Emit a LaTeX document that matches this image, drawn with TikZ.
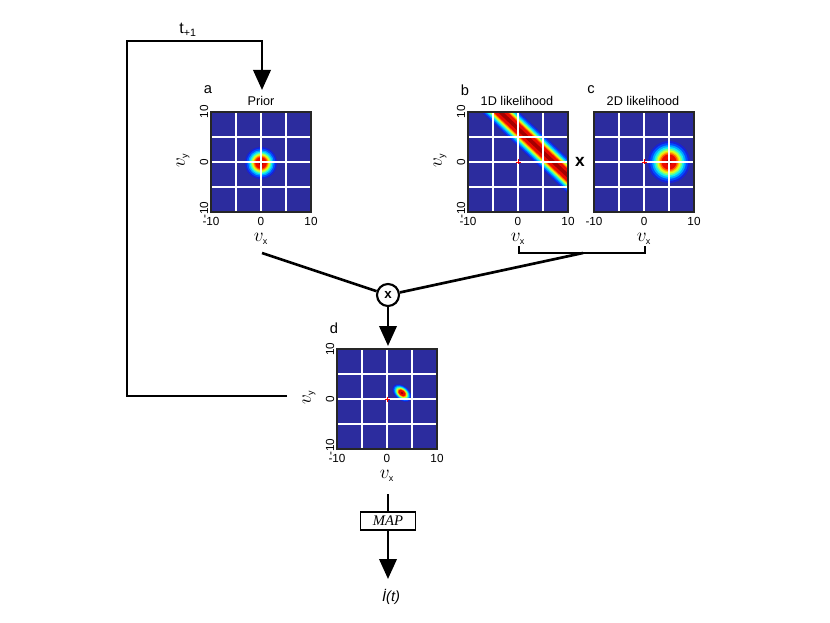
\documentclass[tikz,border=0pt]{standalone}
\usepackage{fontspec}
\setmainfont{Liberation Sans}
\newfontfamily\mapfont{Liberation Serif}
\usetikzlibrary{arrows.meta}

% jet colour scale
\definecolor{heatbg}{RGB}{44,44,158}
\definecolor{jetA}{RGB}{24,34,215}
\definecolor{jetB}{RGB}{0,80,255}
\definecolor{jetC}{RGB}{0,170,255}
\definecolor{jetD}{RGB}{20,240,235}
\definecolor{jetE}{RGB}{120,255,130}
\definecolor{jetF}{RGB}{220,255,30}
\definecolor{jetG}{RGB}{255,190,0}
\definecolor{jetH}{RGB}{255,90,0}
\definecolor{jetI}{RGB}{235,10,0}
\definecolor{jetJ}{RGB}{165,0,0}

\newcommand{\jetlevels}{1/jetA,0.9/jetB,0.8/jetC,0.71/jetD,0.63/jetE,0.56/jetF,0.49/jetG,0.43/jetH,0.36/jetI,0.14/jetJ}

% blob: centre, x radius, y radius, angle
\newcommand{\heatspot}[4]{%
  \foreach \f/\c in \jetlevels
    \fill[\c, rotate around={#4:#1}] #1 ellipse [x radius=\f*#2, y radius=\f*#3];
}
% band: from, to, half width
\newcommand{\heatband}[3]{%
  \foreach \f/\c in \jetlevels
    \draw[\c, line width={1.5*\f*#3*1pt}] #1 -- #2;
}
% grid: left, top
\newcommand{\heatgrid}[2]{%
  \foreach \g in {25,50,75}{
    \draw[gridline] (#1+\g,#2) -- (#1+\g,#2+100);
    \draw[gridline] (#1,#2+\g) -- (#1+100,#2+\g);
  }
}
% tick labels: name, left, top
\newcommand{\yticks}[3]{%
  \node[tick, rotate=90] (#1-y10) at (#2-7,#3) {10};
  \node[tick, rotate=90] (#1-y0) at (#2-7,#3+50) {0};
  \node[tick, rotate=90] (#1-ym10) at (#2-7,#3+98) {-10};
  \node[axis, rotate=90] (#1-vy) at (#2-28,#3+48) {$v_{\scriptscriptstyle\mathrm{y}}$};
}
\newcommand{\xticks}[3]{%
  \node[tick] (#1-xm10) at (#2,#3+109) {-10};
  \node[tick] (#1-x0) at (#2+50,#3+109) {0};
  \node[tick] (#1-x10) at (#2+100,#3+109) {10};
  \node[axis] (#1-vx) at (#2+50,#3+127) {$v_{\scriptscriptstyle\mathrm{x}}$};
}

\begin{document}
\begin{tikzpicture}[x=0.75pt, y=-0.75pt,
  flow/.style={line width=2pt},
  flowarrow/.style={line width=2pt, -{Triangle[length=15pt,width=13pt]}},
  gridline/.style={white, line width=1.1pt},
  plotframe/.style={draw=black!85, line width=0.8pt, minimum size=75pt, inner sep=0pt},
  tick/.style={font=\fontsize{8.8}{9}\selectfont, inner sep=0pt},
  title/.style={font=\fontsize{9.5}{10}\selectfont, inner sep=0pt},
  letter/.style={font=\fontsize{11}{12}\selectfont, inner sep=0pt},
  axis/.style={font=\fontsize{13.5}{14}\selectfont, inner sep=0pt},
  origin/.style={red, line width=0.6pt}]
  \fill[white] (0,0) rectangle (830,623);
  \useasboundingbox (0,0) rectangle (830,623);

  % Prior
  \begin{scope}
    \clip (211,112) rectangle (311,212);
    \fill[heatbg] (211,112) rectangle (311,212);
    \heatspot{(261,163)}{16}{16}{0}
    \heatgrid{211}{112}
  \end{scope}
  \node[plotframe] (pa) at (261,162) {};
  \node[letter] (la) at (208,90) {a};
  \node[title] (ta) at (261,101) {Prior};
  \yticks{pa}{211}{112}
  \xticks{pa}{211}{112}

  % 1D likelihood
  \begin{scope}
    \clip (468,112) rectangle (568,212);
    \fill[heatbg] (468,112) rectangle (568,212);
    \heatband{(460,74)}{(600,206)}{13}
    \heatgrid{468}{112}
    \draw[origin] (515.5,162) -- (520.5,162) (518,159.5) -- (518,164.5);
  \end{scope}
  \node[plotframe] (pb) at (518,162) {};
  \node[letter] (lb) at (465,90) {b};
  \node[title] (tb) at (517,101) {1D likelihood};
  \yticks{pb}{468}{112}
  \xticks{pb}{468}{112}

  \node[font=\bfseries\fontsize{13}{14}\selectfont, inner sep=0pt] (times) at (580,162) {x};

  % 2D likelihood
  \begin{scope}
    \clip (594,112) rectangle (694,212);
    \fill[heatbg] (594,112) rectangle (694,212);
    \heatspot{(669,162)}{21}{21}{0}
    \heatgrid{594}{112}
    \draw[origin] (641.5,162) -- (646.5,162) (644,159.5) -- (644,164.5);
  \end{scope}
  \node[plotframe] (pc) at (644,162) {};
  \node[letter] (lc) at (591,90) {c};
  \node[title] (tc) at (643,101) {2D likelihood};
  \xticks{pc}{594}{112}

  % Posterior
  \begin{scope}
    \clip (337,349) rectangle (437,449);
    \fill[heatbg] (337,349) rectangle (437,449);
    \heatspot{(402,393)}{11}{7}{-40}
    \heatgrid{337}{349}
    \draw[origin] (384.5,399) -- (389.5,399) (387,396.5) -- (387,401.5);
  \end{scope}
  \node[plotframe] (pd) at (387,399) {};
  \node[letter] (ld) at (334,328) {d};
  \yticks{pd}{337}{349}
  \xticks{pd}{337}{349}

  % Define connector ends
  \coordinate (ajoin) at (262,253);
  \coordinate (bcjoin) at (583,253);
  \coordinate (bl) at (519,246);
  \coordinate (br) at (645,246);
  \coordinate (fbout) at (287,396);
  \coordinate (fbcorner) at (127,41);
  \coordinate (priorin) at (262,90);
  \coordinate (dout) at (388,494);
  \coordinate (dtop) at (388,346);
  \coordinate (mapout) at (388,579);

  \node[draw, circle, line width=1.6pt, minimum size=16.5pt, inner sep=0pt,
        font=\bfseries\fontsize{10}{12}\selectfont] (mult) at (388,295) {x};
  \node[draw, line width=0.8pt, minimum width=41pt, minimum height=13.5pt, inner sep=0pt,
        font=\mapfont\itshape\fontsize{11}{12}\selectfont] (map) at (388,521) {MAP};
  \node[font=\itshape\fontsize{11}{12}\selectfont, inner sep=0pt] (idot) at (391,597) {\.{I}(t)};
  \node[font=\fontsize{12}{14}\selectfont, inner sep=0pt] (tnext) at (188,30) {t\textsubscript{+1}};

  % Draw diagram
  \draw[flow] (ajoin) -- (mult);
  \draw[flow] (mult) -- (bcjoin);
  \draw[flow] (bl) -- ++(0,7) -| (br);
  \draw[flowarrow] (mult) -- (dtop);
  \draw[flowarrow] (fbout) -| (fbcorner) -| (priorin);
  \draw[flow] (dout) -- (map);
  \draw[flowarrow] (map) -- (mapout);
\end{tikzpicture}
\end{document}
